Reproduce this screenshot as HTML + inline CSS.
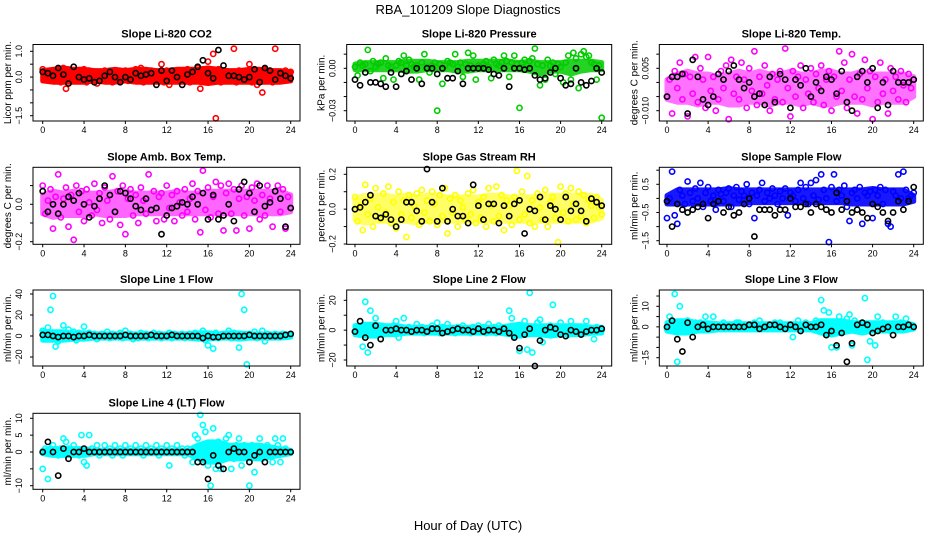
<!DOCTYPE html>
<html><head><meta charset="utf-8"><style>
html,body{margin:0;padding:0;background:#fff}
svg{display:block;font-family:"Liberation Sans",sans-serif}
</style></head><body>
<svg id="chart" width="936" height="540" viewBox="0 0 936 540">
<text x="468" y="14" text-anchor="middle" font-size="13">RBA_101209  Slope Diagnostics</text>
<text x="468" y="530" text-anchor="middle" font-size="13">Hour of Day (UTC)</text>
</svg>
<script>
// ---- data ----
const xTicks = [0,4,8,12,16,20,24];
const co2Col = [0.3,-0.1,0.2,-0.15,0.25,-0.1,0.15,-0.2,0.35,-0.45,0.2,-0.1,0.25,-0.15,0.2,-0.1,0.3,-0.2,0.25,-0.1,0.15,-0.25,0.2,-0.1,0.25,-0.15,0.2,-0.2,0.25,-0.15,0.2,-0.1,0.25,-0.15,0.2,-0.1,0.3,-0.15,0.35,-0.2,0.2,-0.1,0.25,-0.15,0.2,-0.1,0.5,-0.2,0.25,-0.3,0.2,-0.15,0.25,-0.1,0.2,-0.15,0.3,-0.2,0.25,-0.15,0.35,-0.45,0.3,-0.2,0.6,-0.1,0.9,-1.6,0.3,-0.2,0.25,-0.15,0.2,-0.1,1.1,-0.2,0.25,-0.15,0.2,-0.1,0.5,-0.2,0.25,-0.3,0.2,-0.6,0.3,-0.15,0.25,-0.2,1.1,-0.1,0.2,-0.15,0.25,-0.1,0.2];
const co2Blk = [0.2,0.15,0.05,0.35,0.1,-0.25,0.4,0.0,-0.1,-0.05,-0.2,-0.15,0.05,0.2,0.0,-0.2,0.0,-0.1,0.15,0.05,0.1,0.15,-0.3,0.25,-0.15,0.25,0.0,-0.3,0.1,0.2,0.4,0.65,0.15,-0.05,1.05,0.45,0.05,0.05,0.0,-0.1,0.0,0.3,-0.2,0.35,0.25,-0.1,0.15,0.05,-0.05];
const co2Hi = [0.25,0.3,0.35,0.3,0.3,0.25,0.25,0.3,0.25,0.3,0.3,0.25,0.25,0.3,0.3,0.3,0.35,0.3,0.25,0.25,0.3,0.3,0.25,0.25,0.2];
const co2Lo = [-0.15,-0.2,-0.2,-0.2,-0.2,-0.15,-0.2,-0.2,-0.15,-0.2,-0.2,-0.2,-0.2,-0.2,-0.2,-0.2,-0.25,-0.2,-0.2,-0.2,-0.2,-0.2,-0.2,-0.2,-0.15];
const presCol = [0.001,-0.005,0.004,0.002,0.003,0.013,-0.002,0.005,0.001,0.003,0.004,-0.007,0.007,0.002,0.001,-0.008,0.002,0.005,0.004,0.009,0.002,0.006,0.003,0.001,0.002,-0.008,0.004,0.010,0.001,-0.003,0.002,0.004,-0.030,0.003,-0.011,0.002,0.005,0.004,0.003,0.010,0.001,0.004,-0.006,0.003,0.011,0.002,0.009,-0.008,0.002,0.001,0.003,0.005,0.001,-0.007,0.006,0.003,0.002,0.004,0.009,0.005,-0.006,0.004,0.009,0.003,-0.028,0.004,0.006,0.002,0.005,0.007,0.014,0.003,-0.012,0.002,-0.008,0.006,0.002,0.004,-0.004,0.003,0.001,-0.010,0.004,0.009,-0.008,0.011,0.007,-0.014,0.010,0.012,0.008,0.009,0.004,0.003,-0.008,0.002,-0.035];
const presBlk = [-0.008,-0.012,-0.003,-0.010,-0.010,-0.011,-0.013,-0.003,-0.013,-0.004,-0.002,-0.008,0.0,-0.011,0.0,0.0,-0.004,0.0,-0.007,-0.007,-0.002,-0.011,0.0,0.0,0.0,0.0,-0.001,-0.004,-0.005,0.0,-0.013,0.0,0.0,-0.001,0.0,-0.005,-0.008,-0.007,-0.003,0.0,-0.007,-0.012,-0.011,0.0,-0.010,-0.012,-0.009,0.0,-0.003];
const presHi = [0.003,0.004,0.004,0.004,0.004,0.005,0.005,0.005,0.004,0.004,0.004,0.005,0.005,0.005,0.005,0.005,0.004,0.005,0.004,0.004,0.004,0.005,0.005,0.005,0.004];
const presLo = [-0.001,-0.001,-0.001,-0.001,-0.001,-0.002,-0.002,-0.001,-0.001,-0.001,-0.002,-0.002,-0.001,-0.001,-0.001,-0.001,-0.001,-0.002,-0.004,-0.002,-0.002,-0.004,-0.002,-0.001,-0.001];
const tempCol = [-0.005,0.001,-0.011,0.004,-0.002,0.007,-0.006,0.003,-0.012,0.002,-0.004,0.009,-0.007,0.005,0.001,-0.009,0.009,-0.003,0.002,-0.010,-0.006,0.004,-0.002,0.006,-0.013,0.008,-0.004,0.002,-0.006,0.007,0.001,-0.009,0.005,-0.003,0.011,-0.008,0.002,-0.004,0.006,-0.001,-0.010,0.003,-0.006,0.001,0.004,-0.007,0.012,-0.002,-0.012,0.004,-0.005,0.002,0.006,-0.009,0.001,-0.004,0.005,-0.007,0.003,-0.002,0.006,-0.008,0.001,0.004,-0.010,0.002,-0.005,0.011,-0.003,0.007,-0.009,0.001,0.010,-0.005,-0.011,0.003,-0.006,0.008,-0.002,0.004,-0.013,0.002,-0.007,0.007,-0.004,0.001,-0.011,0.005,-0.003,0.002,-0.006,0.004,-0.001,-0.007,0.003,-0.002,0.001];
const tempBlk = [-0.005,0.002,0.002,0.003,-0.011,0.008,0.002,-0.006,-0.008,-0.005,0.003,0.001,0.004,0.006,0.001,-0.002,0.000,-0.005,-0.004,-0.008,0.002,-0.007,0.003,0.001,-0.009,0.001,-0.001,0.005,-0.005,0.000,-0.003,0.002,0.001,-0.004,0.004,-0.007,-0.010,0.002,0.004,0.000,0.005,-0.009,0.000,-0.008,0.004,0.000,0.000,0.000,0.001];
const tempHi = [0.001,0.003,0.004,0.003,0.003,0.002,0.003,0.004,0.003,0.004,0.003,0.003,0.004,0.003,0.003,0.004,0.004,0.003,0.003,0.004,0.003,0.003,0.003,0.003,0.002];
const tempLo = [-0.006,-0.007,-0.007,-0.008,-0.007,-0.007,-0.008,-0.008,-0.007,-0.007,-0.008,-0.007,-0.007,-0.008,-0.007,-0.008,-0.008,-0.007,-0.007,-0.007,-0.008,-0.007,-0.007,-0.007,-0.005];
const ambCol = [0.1,-0.05,0.02,0.08,-0.13,0.04,0.16,-0.07,0.03,0.09,-0.12,0.05,-0.19,0.1,-0.04,0.07,-0.09,0.08,0.01,-0.06,0.11,-0.03,0.06,-0.1,0.09,0.02,-0.08,0.15,-0.04,0.07,-0.11,0.1,-0.16,0.03,0.08,-0.06,0.05,-0.1,0.09,0.02,-0.05,0.16,-0.03,0.07,-0.09,0.04,0.06,-0.08,0.1,-0.02,0.05,-0.09,0.07,0.01,-0.06,0.08,-0.04,0.03,0.11,-0.08,0.07,-0.15,0.18,-0.03,0.09,-0.07,0.04,0.12,-0.05,0.1,-0.14,0.06,0.11,-0.05,0.08,-0.14,0.03,0.1,-0.06,0.04,-0.13,0.09,0.02,0.11,-0.08,0.05,-0.06,0.1,0.03,-0.12,0.07,0.1,-0.04,0.08,-0.13,0.04,-0.02];
const ambBlk = [0.07,-0.04,0.0,-0.05,0.0,0.04,0.02,0.06,0.0,-0.07,-0.01,0.03,0.1,0.05,-0.04,0.07,0.06,0.03,-0.01,-0.03,0.03,-0.03,-0.02,-0.16,-0.06,-0.02,-0.01,0.01,0.0,0.04,0.0,0.06,-0.08,0.05,-0.08,-0.06,0.0,-0.09,0.08,0.12,0.06,-0.04,0.1,-0.01,0.01,0.07,0.03,-0.12,-0.02];
const ambHi = [0.05,0.07,0.06,0.07,0.06,0.06,0.06,0.07,0.07,0.06,0.06,0.06,0.06,0.07,0.06,0.06,0.07,0.07,0.07,0.07,0.07,0.07,0.07,0.07,0.05];
const ambLo = [-0.05,-0.07,-0.06,-0.06,-0.06,-0.05,-0.06,-0.06,-0.06,-0.05,-0.05,-0.05,-0.05,-0.05,-0.05,-0.05,-0.05,-0.05,-0.05,-0.05,-0.05,-0.05,-0.05,-0.05,-0.04];
const rhCol = [0.07,-0.07,0.02,-0.12,0.14,-0.03,0.06,-0.1,0.12,0.01,-0.06,0.09,-0.02,0.13,-0.08,0.04,-0.11,0.1,-0.03,0.05,-0.16,0.08,-0.05,0.02,0.09,-0.09,0.11,-0.02,0.05,-0.07,0.1,0.03,-0.09,0.08,-0.04,0.12,-0.14,0.06,-0.02,0.08,-0.1,0.05,0.01,-0.06,0.09,-0.03,0.11,-0.08,0.04,-0.05,0.07,-0.1,0.12,0.02,-0.07,0.13,-0.04,0.08,-0.12,0.05,0.02,-0.09,0.07,0.22,-0.06,0.1,-0.03,0.19,-0.08,0.05,-0.1,0.09,0.01,-0.06,0.11,-0.1,0.04,0.07,-0.05,-0.19,0.13,-0.02,0.09,-0.07,0.12,0.03,-0.06,0.1,-0.04,0.08,-0.08,0.05,0.02,-0.05,0.07,0.01,-0.03];
const rhBlk = [0.0,0.01,0.04,0.08,-0.04,-0.05,-0.03,-0.06,-0.1,-0.06,0.04,0.04,-0.01,-0.07,0.23,0.04,-0.07,0.12,-0.07,0.0,-0.04,-0.04,-0.08,0.14,0.02,-0.06,0.03,0.03,-0.08,0.02,-0.04,0.03,0.05,-0.14,0.0,-0.01,0.07,-0.06,0.02,0.0,-0.06,0.07,-0.01,0.03,-0.01,-0.07,0.06,0.04,0.02];
const rhHi = [0.06,0.08,0.08,0.08,0.07,0.08,0.07,0.08,0.08,0.07,0.07,0.07,0.07,0.08,0.08,0.07,0.07,0.07,0.08,0.08,0.08,0.08,0.08,0.08,0.05];
const rhLo = [-0.06,-0.08,-0.07,-0.07,-0.07,-0.07,-0.08,-0.07,-0.07,-0.07,-0.07,-0.07,-0.07,-0.07,-0.07,-0.07,-0.07,-0.07,-0.07,-0.07,-0.07,-0.07,-0.07,-0.07,-0.05];
const flowCol = [-0.7,0.0,0.95,-0.6,-0.9,0.3,0.1,-0.2,0.6,0.2,-0.1,0.35,0.0,0.55,-0.3,0.2,0.4,-0.1,0.1,-0.4,0.3,0.15,-0.1,0.2,0.35,-0.3,0.1,0.4,-0.05,0.25,0.1,0.5,-0.2,0.2,-0.7,0.1,0.3,0.55,-0.1,0.2,0.0,0.35,0.1,-0.2,0.25,0.0,0.35,-0.6,0.2,0.1,-0.1,0.3,0.55,0.0,0.4,-0.2,0.55,0.1,0.65,-0.05,0.85,0.3,0.0,-1.55,0.4,0.85,-0.1,0.3,0.1,0.45,-0.3,-0.8,0.2,0.3,0.0,0.4,-0.9,0.2,0.1,0.25,-0.7,0.3,0.1,0.4,-0.2,0.3,-0.9,-1.0,0.25,0.1,0.85,0.0,0.95,0.3,0.0,0.1,0.2];
const flowBlk = [-0.1,-1.0,-0.2,-0.4,-0.5,-0.4,-0.3,-0.2,-0.7,-0.2,-0.1,-0.5,-0.3,-0.6,-0.5,-0.2,0.0,-1.35,-0.4,-0.4,-0.4,-0.6,-0.4,-0.4,0.0,-0.3,-0.3,-0.2,-0.5,-0.2,-0.3,-0.4,-0.5,0.2,-0.4,-0.1,-0.5,-0.4,-0.5,-0.7,-0.2,-0.3,-0.5,-0.8,-0.5,-0.1,-0.4,-0.1,0.4];
const flowHi = [0.1,0.3,0.3,0.3,0.3,0.3,0.35,0.3,0.3,0.3,0.3,0.3,0.3,0.3,0.3,0.3,0.3,0.3,0.3,0.3,0.35,0.3,0.3,0.3,0.1];
const flowLo = [-0.2,-0.2,-0.2,-0.2,-0.2,-0.2,-0.2,-0.2,-0.15,-0.15,-0.15,-0.15,-0.15,-0.15,-0.15,-0.15,-0.15,-0.15,-0.2,-0.2,-0.2,-0.2,-0.2,-0.2,-0.1];
const line1Col = [5,-3,8,25, 38,-10,-5,3, 10,-3,6,-2, 4,-4,3,2, 9,-2,3,-1, 2,-3,1,2, -1,4,-2,2, 1,-1,3,-2, 5,-1,2,-3, 1,-2,3,-1, 2,-2,1,3, -1,2,-2,1, -1,3,-2,2, 1,-1,2,-2, 1,2,-1,3, -2,1,5,-4, -9,2,-12,3, -2,1,2,-1, 5,-2,3,1, -11,40,25,-27, 2,-1,4,-2, 1,5,-5,2, 1,-1,2,1, -1,2,1,1, 1];
const line1Blk = [1,1,0,-1,0,0,-1,0,0,1,0,0,0,0,0,0,1,0,0,0,0,1,0,0,0,1,0,0,0,0,0,-2,0,-1,-1,0,0,0,0,0,1,0,0,0,0,0,0,1,2];
const line1Hi = [4,4,4,3,3,2,2,2,2,2,2,2,2,2,2,3,3,2,3,3,2,2,2,2,2];
const line1Lo = [-4,-4,-4,-3,-3,-2,-2,-2,-2,-2,-2,-2,-2,-2,-2,-3,-3,-2,-2,-3,-2,-2,-2,-2,-1];
const line2Col = [-1,2,-3,-11, 19,-15,13,3, 8,-2,2,-1, 2,-2,1,3, 6,-5,2,8, -1,2,-1,1, 4,-1,2,-2, 1,-1,3,-1, 5,-2,2,-1, 4,-1,1,-2, 2,-1,3,-1, 1,-2,2,-1, 3,-1,2,-2, 4,-1,2,-2, 3,-1,1,2, 13,8,-4,2, -14,3,6,-13, 25,-15,2,5, 7,-8,2,-1, 3,17,-2,2, 5,-1,2,-3, 6,-2,1,2, -1,2,6,-2, 1,-6,2,1, 0];
const line2Blk = [-1,6,-5,-10,3,-6,0,0,1,0,0,-1,0,0,-1,1,1,-2,-1,0,1,0,0,-1,1,-1,0,0,-1,1,-2,-5,-12,-3,1,-24,-7,0,2,1,-3,-4,0,-1,-3,-1,0,0,1];
const line2Hi = [3,4,4,3,3,2,2,2,2,2,2,2,2,2,2,3,4,3,3,3,3,3,3,2,2];
const line2Lo = [-3,-4,-4,-3,-3,-2,-2,-2,-2,-2,-2,-2,-2,-2,-2,-3,-4,-3,-3,-4,-3,-3,-3,-2,-2];
const line3Col = [-1,5,1,16, -17,10,2,-1, 3,-1,1,2, -1,2,-1,5, -1,1,5,-1, 1,-1,2,-1, 1,-1,1,2, 2,-1,1,-1, 1,-1,2,-1, 3,-1,1,-1, 1,-1,2,-1, 2,-1,1,-1, 1,-5,-1,3, 1,-1,2,-1, 1,-1,3,-1, 13,8,-1,7, -10,-1,-10,5, -1,2,4,6, -9,3,-1,1, 2,14,-16,-7, -1,-9,5,1, 2,-1,1,-2, 1,5,-1,2, 1,4,-1,1, 0];
const line3Blk = [0,3,-6,-12,2,-5,0,1,-1,0,0,0,0,0,0,0,1,1,-1,0,1,1,0,-1,1,0,-2,1,0,0,1,-4,-2,-9,-3,-17,-8,1,2,1,-3,-2,-1,0,-4,0,0,1,0];
const line3Hi = [2,3,3,2,2,1.5,1.5,1.5,1.5,1.5,1.5,1.5,1.5,1.5,1.5,3,3,3,2,2,2,2,2,2,1];
const line3Lo = [-2,-3,-3,-2,-2,-1.5,-1.5,-1.5,-1.5,-1.5,-1.5,-1.5,-1.5,-1.5,-1.5,-3,-4,-3,-2,-3,-2,-2,-2,-2,-1];
const line4Col = [-5,1,-8,1, 2,0,-1,1, 4,3,1,0, 2,0,-1,5, -3,-4,5,1, 0,2,-1,0, 2,0,1,-1, 2,0,1,-1, 2,0,1,0, 2,0,1,-1, 2,0,1,0, 2,-1,1,0, 2,-4,1,0, 2,0,1,-1, 1,0,-3,5, 4,11,8,6, -4,-10,7,-5, 3,-5,2,4, 5,-5,-2,2, 4,-4,2,-1, -10,2,-6,1, 4,-2,1,2, 1,-3,4,2, -3,4,1,0, 0];
const line4Blk = [0,3,0,-7,1,-2,0,0,1,0,0,0,0,0,0,0,0,0,0,0,0,0,0,0,0,0,0,0,0,0,-3,-3,-8,-1,-4,-5,0,1,0,0,-3,-1,0,-3,0,0,0,0,0];
const line4Hi = [0.5,1,1,1,1,0.5,0.5,0.5,0.5,0.5,0.5,0.5,0.5,0.5,0.5,2,3,3,2,2,2,2,1.5,1,0.5];
const line4Lo = [-0.5,-1,-1,-1,-1,-0.5,-0.5,-0.5,-0.5,-0.5,-0.5,-0.5,-0.5,-0.5,-0.5,-2,-3,-3,-2,-2,-2,-2,-1.5,-1,-0.5];

// ---- layout ----
const COLS=[{x0:33,x1:300,h0:42.7,h24:290.7},{x0:346.7,x1:611.7,h0:355,h24:601.7},{x0:659.3,x1:923.3,h0:667,h24:913.7}];
const ROWS=[{y0:44.5,y1:121},{y0:167.3,y1:244.3},{y0:290,y1:366},{y0:413.3,y1:489.3}];
const panels=[
 {name:'co2',title:'Slope Li-820 CO2',ylab:'Licor ppm per min.',c:0,r:0,col:'#ff0000',op:1,a:co2Col,b:co2Blk,hi:co2Hi,lo:co2Lo,ref:[1.0,51.3,-1.5,115.7],ticks:[1,0.5,0,-0.5,-1,-1.5],labels:['1.0','','0.0','','','\u22121.5']},
 {name:'pressure',title:'Slope Li-820 Pressure',ylab:'kPa per min.',c:1,r:0,col:'#00cc00',op:0.85,a:presCol,b:presBlk,hi:presHi,lo:presLo,ref:[0,68.3,-0.03,110.7],ticks:[0.01,0,-0.01,-0.02,-0.03],labels:['','0.00','','','\u22120.03']},
 {name:'temp',title:'Slope Li-820 Temp.',ylab:'degrees C per min.',c:2,r:0,col:'#ff00ff',op:0.55,a:tempCol,b:tempBlk,hi:tempHi,lo:tempLo,ref:[0.005,68.3,-0.010,110.7],ticks:[0.01,0.005,0,-0.005,-0.01],labels:['','0.005','','','\u22120.010']},
 {name:'amb-box-temp',title:'Slope Amb. Box Temp.',ylab:'degrees C per min.',c:0,r:1,col:'#ff00ff',op:0.6,a:ambCol,b:ambBlk,hi:ambHi,lo:ambLo,ref:[0,204.3,-0.2,241.7],ticks:[0.1,0,-0.1,-0.2],labels:['','0.0','','\u22120.2']},
 {name:'gas-rh',title:'Slope Gas Stream RH',ylab:'percent per min.',c:1,r:1,col:'#ffff00',op:0.6,a:rhCol,b:rhBlk,hi:rhHi,lo:rhLo,ref:[0.2,174.3,-0.2,244],ticks:[0.2,0.1,0,-0.1,-0.2],labels:['0.2','','0.0','','\u22120.2']},
 {name:'sample-flow',title:'Slope Sample Flow',ylab:'ml/min per min.',c:2,r:1,col:'#0000ff',op:0.9,a:flowCol,b:flowBlk,hi:flowHi,lo:flowLo,ref:[0.5,184.3,-1.5,240.7],ticks:[1,0.5,0,-0.5,-1,-1.5],labels:['','0.5','','\u22120.5','','\u22121.5']},
 {name:'line1-flow',title:'Slope Line 1 Flow',ylab:'ml/min per min.',c:0,r:2,col:'#00ffff',op:1,a:line1Col,b:line1Blk,hi:line1Hi,lo:line1Lo,ref:[40,294,-20,357],ticks:[40,20,0,-20],labels:['40','20','0','\u221220']},
 {name:'line2-flow',title:'Slope Line 2 Flow',ylab:'ml/min per min.',c:1,r:2,col:'#00ffff',op:1,a:line2Col,b:line2Blk,hi:line2Hi,lo:line2Lo,ref:[20,300.3,-20,360],ticks:[20,10,0,-10,-20],labels:['20','','0','','\u221220']},
 {name:'line3-flow',title:'Slope Line 3 Flow',ylab:'ml/min per min.',c:2,r:2,col:'#00ffff',op:1,a:line3Col,b:line3Blk,hi:line3Hi,lo:line3Lo,ref:[10,306.3,-15,357.7],ticks:[15,10,5,0,-5,-10,-15],labels:['','10','','0','','','\u221215']},
 {name:'line4-flow',title:'Slope Line 4 (LT) Flow',ylab:'ml/min per min.',c:0,r:3,col:'#00ffff',op:1,a:line4Col,b:line4Blk,hi:line4Hi,lo:line4Lo,ref:[10,418.3,-10,485.7],ticks:[10,5,0,-5,-10],labels:['10','5','0','','\u221210']}
];
const NS='http://www.w3.org/2000/svg';
const svg=document.getElementById('chart');
function mk(tag,attrs,parent){const e=document.createElementNS(NS,tag);for(const k in attrs)e.setAttribute(k,attrs[k]);parent.appendChild(e);return e;}

panels.forEach(p=>{
  const C=COLS[p.c],R=ROWS[p.r];
  const xScale=h=>C.h0+(C.h24-C.h0)*h/24;
  const yScale=v=>p.ref[1]+(v-p.ref[0])*(p.ref[3]-p.ref[1])/(p.ref[2]-p.ref[0]);
  const g=mk('g',{},svg);
  
  
  const t=mk('text',{x:(C.x0+C.x1)/2,y:R.y0-7,'text-anchor':'middle','font-size':11,'font-weight':'bold'},g);
  t.textContent=p.title;
  
  
  const yt=mk('text',{transform:`translate(${C.x0-22},${(R.y0+R.y1)/2}) rotate(-90)`,'text-anchor':'middle','font-size':10},g);
  yt.textContent=p.ylab;
  
  
  let d='';
  p.hi.forEach((v,i)=>{d+=(i?'L':'M')+xScale(i*24/(p.hi.length-1)).toFixed(1)+','+yScale(v).toFixed(1);});
  for(let i=p.lo.length-1;i>=0;i--){d+='L'+xScale(i*24/(p.lo.length-1)).toFixed(1)+','+yScale(p.lo[i]).toFixed(1);}
  const band=mk('path',{d:d+'Z',fill:p.col,stroke:p.col,'stroke-width':5,'stroke-linejoin':'round',opacity:p.op},g);
  
  
  const pts=mk('g',{fill:'none','stroke-width':1.6},g);
  
  
  p.a.forEach((v,i)=>{
    const c=mk('circle',{cx:xScale(i*24/(p.a.length-1)).toFixed(1),cy:yScale(v).toFixed(1),r:2.6,stroke:p.col},pts);
    
    
  });
  p.b.forEach((v,i)=>{
    const c=mk('circle',{cx:xScale(i*24/(p.b.length-1)).toFixed(1),cy:yScale(v).toFixed(1),r:2.6,stroke:'#000'},pts);
    
    
  });
  const box=mk('rect',{x:C.x0,y:R.y0,width:C.x1-C.x0,height:R.y1-R.y0,fill:'none',stroke:'#000','stroke-width':1},g);
  
  
  xTicks.forEach(h=>{
    const x=xScale(h);
    mk('line',{x1:x,x2:x,y1:R.y1,y2:R.y1+3,stroke:'#000'},g);
    const l=mk('text',{x:x,y:R.y1+12,'text-anchor':'middle','font-size':9},g);
    l.textContent=h;
    
    
  });
  p.ticks.forEach((v,i)=>{
    const y=yScale(v);
    if(y<R.y0-1||y>R.y1+1)return;
    mk('line',{x1:C.x0-3,x2:C.x0,y1:y,y2:y,stroke:'#000'},g);
    if(p.labels[i]){
      const l=mk('text',{transform:`translate(${C.x0-11},${y}) rotate(-90)`,'text-anchor':'middle','font-size':9},g);
      l.textContent=p.labels[i];
      
      
    }
  });
});
</script>
</body></html>
